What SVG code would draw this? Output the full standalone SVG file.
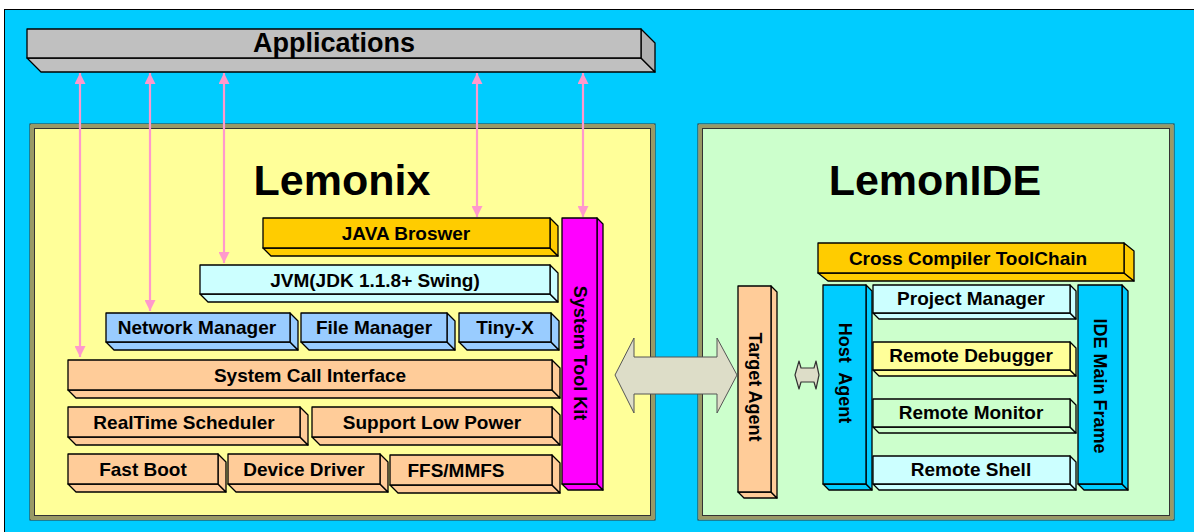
<svg xmlns="http://www.w3.org/2000/svg" width="1194" height="532" viewBox="0 0 1194 532">
<defs>
<style>
text{font-family:"Liberation Sans",Arial,sans-serif;font-weight:bold;fill:#000;text-anchor:middle}
.lbl{font-size:19px}
.vl{font-size:18px}
.title{font-size:43px}
.b{stroke:#000;stroke-width:1.3;stroke-linejoin:round}
.pink{stroke:#FF99CC;stroke-width:2.2;fill:none}
</style>
<marker id="ah" viewBox="0 0 10 10" refX="10" refY="5" markerWidth="5" markerHeight="5" orient="auto-start-reverse" markerUnits="strokeWidth">
<path d="M0,0 L10,5 L0,10 z" fill="#FF99CC"/>
</marker>
</defs>
<rect x="0" y="0" width="1194" height="532" fill="#fff"/>
<rect x="4.5" y="9.5" width="1195" height="530" fill="#00CCFF" stroke="#000" stroke-width="1"/>

<g id="applications">
<polygon class="b" fill="#C0C0C0" points="27,58 641,58 655,72 41,72"/>
<polygon class="b" fill="#B0B0B0" points="641,29 655,43 655,72 641,58"/>
<rect class="b" fill="#C0C0C0" x="27" y="29" width="614" height="29"/>
<text x="334" y="52" style="font-size:27px">Applications</text>
</g>

<g id="lemonix">
<rect x="30" y="124" width="625" height="396" fill="#FFFF99" stroke="#333" stroke-width="1"/>
<rect x="32.5" y="126.5" width="620" height="391" fill="none" stroke="#999966" stroke-width="3"/>
<rect x="34.5" y="128.5" width="616" height="387" fill="none" stroke="#333" stroke-width="1"/>
<text class="title" x="342" y="195">Lemonix</text>
</g>

<g id="lemonide">
<rect x="698" y="124" width="476" height="396" fill="#CCFFCC" stroke="#333" stroke-width="1"/>
<rect x="700.5" y="126.5" width="471" height="391" fill="none" stroke="#999966" stroke-width="3"/>
<rect x="702.5" y="128.5" width="467" height="387" fill="none" stroke="#333" stroke-width="1"/>
<text class="title" x="935" y="195">LemonIDE</text>
</g>

<g id="java-broswer">
<polygon class="b" fill="#FFCC00" points="263,248 550,248 558,256 271,256"/>
<polygon class="b" fill="#FFCC00" points="550,218 558,226 558,256 550,248"/>
<rect class="b" fill="#FFCC00" x="263" y="218" width="287" height="30"/>
<text class="lbl" x="406" y="240">JAVA Broswer</text>
</g>

<g id="jvm">
<polygon class="b" fill="#CCFFFF" points="200,294 550,294 558,302 208,302"/>
<polygon class="b" fill="#CCFFFF" points="550,265 558,273 558,302 550,294"/>
<rect class="b" fill="#CCFFFF" x="200" y="265" width="350" height="29"/>
<text class="lbl" x="375" y="287">JVM(JDK 1.1.8+ Swing)</text>
</g>

<g id="network-manager">
<polygon class="b" fill="#99CCFF" points="106,342 290,342 298,350 114,350"/>
<polygon class="b" fill="#99CCFF" points="290,313 298,321 298,350 290,342"/>
<rect class="b" fill="#99CCFF" x="106" y="313" width="184" height="29"/>
<text class="lbl" x="197" y="334">Network Manager</text>
</g>

<g id="file-manager">
<polygon class="b" fill="#99CCFF" points="301,342 447,342 455,350 309,350"/>
<polygon class="b" fill="#99CCFF" points="447,313 455,321 455,350 447,342"/>
<rect class="b" fill="#99CCFF" x="301" y="313" width="146" height="29"/>
<text class="lbl" x="374" y="334">File Manager</text>
</g>

<g id="tiny-x">
<polygon class="b" fill="#99CCFF" points="459,342 551,342 559,350 467,350"/>
<polygon class="b" fill="#99CCFF" points="551,313 559,321 559,350 551,342"/>
<rect class="b" fill="#99CCFF" x="459" y="313" width="92" height="29"/>
<text class="lbl" x="505" y="334">Tiny-X</text>
</g>

<g id="system-call-interface">
<polygon class="b" fill="#FFCC99" points="68,390 552,390 560,398 76,398"/>
<polygon class="b" fill="#FFCC99" points="552,360 560,368 560,398 552,390"/>
<rect class="b" fill="#FFCC99" x="68" y="360" width="484" height="30"/>
<text class="lbl" x="310" y="382">System Call Interface</text>
</g>

<g id="realtime-scheduler">
<polygon class="b" fill="#FFCC99" points="68,437 300,437 308,445 76,445"/>
<polygon class="b" fill="#FFCC99" points="300,407 308,415 308,445 300,437"/>
<rect class="b" fill="#FFCC99" x="68" y="407" width="232" height="30"/>
<text class="lbl" x="184" y="429">RealTime Scheduler</text>
</g>

<g id="support-low-power">
<polygon class="b" fill="#FFCC99" points="312,437 552,437 560,445 320,445"/>
<polygon class="b" fill="#FFCC99" points="552,407 560,415 560,445 552,437"/>
<rect class="b" fill="#FFCC99" x="312" y="407" width="240" height="30"/>
<text class="lbl" x="432" y="429">Support Low Power</text>
</g>

<g id="fast-boot">
<polygon class="b" fill="#FFCC99" points="68,484 218,484 226,492 76,492"/>
<polygon class="b" fill="#FFCC99" points="218,454 226,462 226,492 218,484"/>
<rect class="b" fill="#FFCC99" x="68" y="454" width="150" height="30"/>
<text class="lbl" x="143" y="476">Fast Boot</text>
</g>

<g id="device-driver">
<polygon class="b" fill="#FFCC99" points="228,484 380,484 388,492 236,492"/>
<polygon class="b" fill="#FFCC99" points="380,454 388,462 388,492 380,484"/>
<rect class="b" fill="#FFCC99" x="228" y="454" width="152" height="30"/>
<text class="lbl" x="304" y="476">Device Driver</text>
</g>

<g id="ffs-mmfs">
<polygon class="b" fill="#FFCC99" points="390,485 552,485 560,493 398,493"/>
<polygon class="b" fill="#FFCC99" points="552,455 560,463 560,493 552,485"/>
<rect class="b" fill="#FFCC99" x="390" y="455" width="162" height="30"/>
<text class="lbl" x="456" y="477">FFS/MMFS</text>
</g>

<g id="system-tool-kit">
<polygon class="b" fill="#FF00FF" points="562,484 597,484 603,490 568,490"/>
<polygon class="b" fill="#FF00FF" points="597,218 603,224 603,490 597,484"/>
<rect class="b" fill="#FF00FF" x="562" y="218" width="35" height="266"/>
<text class="vl" transform="translate(580,353) rotate(90)" dy="6">System Tool Kit</text>
</g>

<g id="cross-compiler-toolchain">
<polygon class="b" fill="#FFCC00" points="818,273 1124,273 1134,281 828,281"/>
<polygon class="b" fill="#FFCC00" points="1124,243 1134,251 1134,281 1124,273"/>
<rect class="b" fill="#FFCC00" x="818" y="243" width="306" height="30"/>
<text class="lbl" x="968" y="265">Cross Compiler ToolChain</text>
</g>

<g id="target-agent">
<polygon class="b" fill="#FFCC99" points="738,492 771,492 777,498 744,498"/>
<polygon class="b" fill="#FFCC99" points="771,286 777,292 777,498 771,492"/>
<rect class="b" fill="#FFCC99" x="738" y="286" width="33" height="206"/>
<text class="vl" transform="translate(755,387) rotate(90)" dy="6">Target Agent</text>
</g>

<g id="host-agent">
<polygon class="b" fill="#00CCFF" points="823,484 866,484 872,490 829,490"/>
<polygon class="b" fill="#00CCFF" points="866,285 872,291 872,490 866,484"/>
<rect class="b" fill="#00CCFF" x="823" y="285" width="43" height="199"/>
<text class="vl" transform="translate(845,373) rotate(90)" dy="6" xml:space="preserve">Host  Agent</text>
</g>

<g id="ide-main-frame">
<polygon class="b" fill="#00CCFF" points="1078,484 1122,484 1128,490 1084,490"/>
<polygon class="b" fill="#00CCFF" points="1122,285 1128,291 1128,490 1122,484"/>
<rect class="b" fill="#00CCFF" x="1078" y="285" width="44" height="199"/>
<text class="vl" transform="translate(1100,386) rotate(90)" dy="6">IDE Main Frame</text>
</g>

<g id="project-manager">
<polygon class="b" fill="#CCFFFF" points="873,313 1070,313 1076,319 879,319"/>
<polygon class="b" fill="#CCFFFF" points="1070,285 1076,291 1076,319 1070,313"/>
<rect class="b" fill="#CCFFFF" x="873" y="285" width="197" height="28"/>
<text class="lbl" x="971" y="305">Project Manager</text>
</g>

<g id="remote-debugger">
<polygon class="b" fill="#FFFF99" points="873,370 1070,370 1076,376 879,376"/>
<polygon class="b" fill="#FFFF99" points="1070,342 1076,348 1076,376 1070,370"/>
<rect class="b" fill="#FFFF99" x="873" y="342" width="197" height="28"/>
<text class="lbl" x="971" y="362">Remote Debugger</text>
</g>

<g id="remote-monitor">
<polygon class="b" fill="#CCFFCC" points="873,427 1070,427 1076,433 879,433"/>
<polygon class="b" fill="#CCFFCC" points="1070,399 1076,405 1076,433 1070,427"/>
<rect class="b" fill="#CCFFCC" x="873" y="399" width="197" height="28"/>
<text class="lbl" x="971" y="419">Remote Monitor</text>
</g>

<g id="remote-shell">
<polygon class="b" fill="#CCFFFF" points="873,484 1070,484 1076,490 879,490"/>
<polygon class="b" fill="#CCFFFF" points="1070,456 1076,462 1076,490 1070,484"/>
<rect class="b" fill="#CCFFFF" x="873" y="456" width="197" height="28"/>
<text class="lbl" x="971" y="476">Remote Shell</text>
</g>

<g id="connectors">
<line class="pink" x1="80" y1="73" x2="80" y2="357" marker-start="url(#ah)" marker-end="url(#ah)"/>
<line class="pink" x1="150" y1="73" x2="150" y2="311" marker-start="url(#ah)" marker-end="url(#ah)"/>
<line class="pink" x1="224" y1="73" x2="224" y2="263" marker-start="url(#ah)" marker-end="url(#ah)"/>
<line class="pink" x1="477" y1="73" x2="477" y2="217" marker-start="url(#ah)" marker-end="url(#ah)"/>
<line class="pink" x1="583" y1="73" x2="583" y2="217" marker-start="url(#ah)" marker-end="url(#ah)"/>
<polygon fill="#DDDDC8" stroke="#555" stroke-width="1" points="615,375 634,338 634,357 717,357 717,338 737,375 717,413 717,394 634,394 634,413"/>
<polygon fill="#DDDDC8" stroke="#333" stroke-width="1.2" stroke-linejoin="round" points="795,375 799,361 801,368 814,368 816,361 819,375 816,389 814,382 801,382 799,389"/>
</g>
</svg>
